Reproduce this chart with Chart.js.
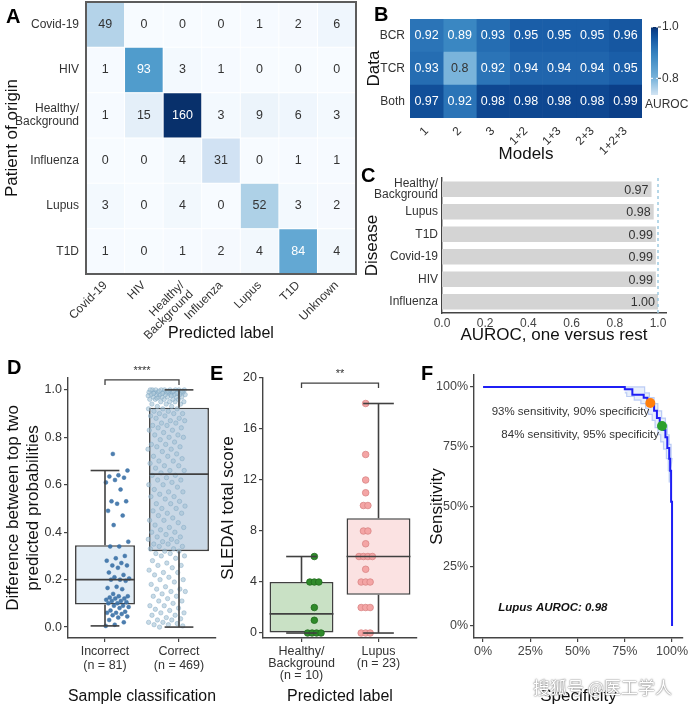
<!DOCTYPE html>
<html>
<head>
<meta charset="utf-8">
<script src="https://cdn.jsdelivr.net/npm/chart.js@4.4.0/dist/chart.umd.min.js"></script>
<style>
  body { margin: 0; background: #fff; width: 690px; height: 708px; position: relative; overflow: hidden; font-family: 'Liberation Sans', Arial, sans-serif; }
  canvas { position: absolute; }
  .tag { position: absolute; font-weight: bold; font-size: 20px; color: #000; }
  .mark { position: absolute; left: 533px; top: 674px; font-family: 'Noto Sans CJK SC', sans-serif; font-size: 17px; color: #fff; text-shadow: 0 0 2px #777, 0 0 1px #777; }
</style>
</head>
<body>
<canvas id="cA" width="380" height="350" style="left:0;top:0"></canvas>
<canvas id="cB" width="326" height="170" style="left:364px;top:0"></canvas>
<canvas id="cC" width="360" height="180" style="left:330px;top:170px"></canvas>
<canvas id="cD" width="225" height="353" style="left:0;top:355px"></canvas>
<canvas id="cE" width="215" height="353" style="left:210px;top:355px"></canvas>
<canvas id="cF" width="270" height="353" style="left:420px;top:355px"></canvas>
<div class="tag" style="left:6px;top:5px">A</div>
<div class="tag" style="left:374px;top:3px">B</div>
<div class="tag" style="left:361px;top:164px">C</div>
<div class="tag" style="left:7px;top:356px">D</div>
<div class="tag" style="left:210px;top:362px">E</div>
<div class="tag" style="left:421px;top:362px">F</div>
<div class="mark">搜狐号 @医工学人</div>
<script>
// Data
// A: confusion matrix
const predLabels = ['Covid-19', 'HIV', ['Healthy/', 'Background'], 'Influenza', 'Lupus', 'T1D', 'Unknown'];
const originLabels = ['Covid-19', 'HIV', ['Healthy/', 'Background'], 'Influenza', 'Lupus', 'T1D'];
const confusion = [
  [49, 0, 0, 0, 1, 2, 6],
  [1, 93, 3, 1, 0, 0, 0],
  [1, 15, 160, 3, 9, 6, 3],
  [0, 0, 4, 31, 0, 1, 1],
  [3, 0, 4, 0, 52, 3, 2],
  [1, 0, 1, 2, 4, 84, 4],
];

// B: AUROC by data / model
const modelLabels = ['1', '2', '3', '1+2', '1+3', '2+3', '1+2+3'];
const dataLabels = ['BCR', 'TCR', 'Both'];
const aurocBCR = [0.92, 0.89, 0.93, 0.95, 0.95, 0.95, 0.96];
const aurocTCR = [0.93, 0.8, 0.92, 0.94, 0.94, 0.94, 0.95];
const aurocBoth = [0.97, 0.92, 0.98, 0.98, 0.98, 0.98, 0.99];

// C: one versus rest
const diseaseLabels = [['Healthy/', 'Background'], 'Lupus', 'T1D', 'Covid-19', 'HIV', 'Influenza'];
const diseaseAuroc = [0.97, 0.98, 0.99, 0.99, 0.99, 1.0];

// D: difference between top two probabilities
const classLabels = [['Incorrect', '(n = 81)'], ['Correct', '(n = 469)']];
const dMin = [0.005, 0.0];
const dQ1 = [0.095, 0.32];
const dMed = [0.2, 0.645];
const dQ3 = [0.345, 0.925];
const dMax = [0.66, 1.0];
const incorrectDiff = [0.73, 0.66, 0.64, 0.635, 0.63, 0.62, 0.61, 0.58, 0.53, 0.53, 0.52, 0.49, 0.47, 0.43,
  0.36, 0.34, 0.34, 0.3, 0.29, 0.28, 0.27, 0.26, 0.26, 0.25, 0.23, 0.22, 0.21, 0.205, 0.2, 0.2, 0.195,
  0.17, 0.165, 0.16, 0.14, 0.13, 0.13, 0.125, 0.12, 0.12, 0.115, 0.11, 0.11, 0.105, 0.1, 0.1, 0.09,
  0.09, 0.085, 0.08, 0.07, 0.065, 0.06, 0.06, 0.055, 0.05, 0.045, 0.04, 0.03, 0.02, 0.01, 0.005];
const correctDiff = [0.0, 0.005, 0.01, 0.01, 0.015, 0.02, 0.02, 0.03, 0.03, 0.035, 0.04, 0.05, 0.05, 0.06,
  0.06, 0.07, 0.075, 0.08, 0.09, 0.09, 0.1, 0.11, 0.11, 0.12, 0.13, 0.13, 0.14, 0.15, 0.15, 0.16, 0.16,
  0.17, 0.18, 0.19, 0.2, 0.2, 0.21, 0.22, 0.23, 0.23, 0.24, 0.25, 0.26, 0.26, 0.27, 0.28, 0.29, 0.3, 0.3,
  0.31, 0.31, 0.32, 0.32, 0.33, 0.33, 0.34, 0.34, 0.35, 0.35, 0.36, 0.36, 0.37, 0.37, 0.38, 0.38, 0.39,
  0.4, 0.4, 0.41, 0.42, 0.42, 0.43, 0.44, 0.45, 0.45, 0.46, 0.47, 0.48, 0.48, 0.49, 0.5, 0.5, 0.51, 0.52,
  0.52, 0.53, 0.54, 0.55, 0.55, 0.56, 0.57, 0.57, 0.58, 0.59, 0.6, 0.6, 0.61, 0.62, 0.62, 0.63, 0.64,
  0.64, 0.65, 0.66, 0.66, 0.67, 0.68, 0.68, 0.69, 0.7, 0.7, 0.71, 0.72, 0.72, 0.73, 0.74, 0.75, 0.75,
  0.76, 0.76, 0.77, 0.77, 0.78, 0.79, 0.8, 0.8, 0.81, 0.81, 0.82, 0.83, 0.83, 0.84, 0.84, 0.85, 0.85,
  0.86, 0.86, 0.87, 0.87, 0.88, 0.88, 0.89, 0.89, 0.9, 0.9, 0.9, 0.91, 0.91, 0.92, 0.92, 0.92, 0.93,
  0.93, 0.94, 0.94, 0.94, 0.95, 0.95, 0.95, 0.95, 0.96, 0.96, 0.96, 0.96, 0.96, 0.97, 0.97, 0.97, 0.97,
  0.97, 0.97, 0.98, 0.98, 0.98, 0.98, 0.98, 0.98, 0.98, 0.98, 0.99, 0.99, 0.99, 0.99, 0.99, 0.99, 0.99,
  0.99, 0.99, 0.99, 1.0, 1.0, 1.0, 1.0, 1.0, 1.0, 1.0, 1.0, 1.0, 0.995, 0.995, 0.995, 0.995, 0.985,
  0.985, 0.985, 0.975, 0.975, 0.965];

// E: SLEDAI scores
const groupLabels = [['Healthy/', 'Background', '(n = 10)'], ['Lupus', '(n = 23)']];
const eMin = [0, 0];
const eQ1 = [0, 3];
const eMed = [1.5, 6];
const eQ3 = [4, 9];
const eMax = [6, 18];
const healthyScores = [0, 0, 0, 0, 1, 2, 4, 4, 4, 6];
const lupusScores = [0, 0, 0, 2, 2, 2, 4, 4, 4, 5, 6, 6, 6, 6, 7, 8, 8, 10, 10, 11, 12, 14, 18];

// F: lupus ROC
const rocSpec = [0, 0.75, 0.75, 0.79, 0.79, 0.85, 0.85, 0.87, 0.87, 0.89, 0.89, 0.905, 0.905, 0.92, 0.92,
  0.935, 0.935, 0.955, 0.955, 0.965, 0.965, 0.975, 0.975, 0.985, 0.985, 0.99, 0.99, 0.995, 0.995, 1.0, 1.0];
const rocSens = [1, 1, 0.99, 0.99, 0.967, 0.967, 0.955, 0.955, 0.94, 0.94, 0.925, 0.925, 0.9, 0.9, 0.87,
  0.87, 0.845, 0.845, 0.82, 0.82, 0.79, 0.79, 0.745, 0.745, 0.7, 0.7, 0.65, 0.65, 0.52, 0.52, 0];
const bandUpSpec = [0.75, 0.855, 0.855, 0.88, 0.88, 0.905, 0.905, 0.925, 0.925, 0.945, 0.945, 0.965, 0.965, 0.975, 0.975, 0.985, 0.985, 0.995, 0.995, 1.0];
const bandUpSens = [1, 1, 0.975, 0.975, 0.955, 0.955, 0.93, 0.93, 0.9, 0.9, 0.87, 0.87, 0.84, 0.84, 0.8, 0.8, 0.76, 0.76, 0.7, 0.7];
const bandLowSpec = [0.75, 0.76, 0.76, 0.8, 0.8, 0.835, 0.835, 0.86, 0.86, 0.875, 0.875, 0.895, 0.895, 0.91, 0.91, 0.925, 0.925, 0.94, 0.94, 0.955, 0.955, 0.97, 0.97, 0.98, 0.98, 0.985, 0.985];
const bandLowSens = [0.975, 0.975, 0.96, 0.96, 0.945, 0.945, 0.93, 0.93, 0.91, 0.91, 0.885, 0.885, 0.86, 0.86, 0.83, 0.83, 0.8, 0.8, 0.77, 0.77, 0.74, 0.74, 0.7, 0.7, 0.65, 0.65, 0.6];
const cutSpec = [0.885, 0.947];
const cutSens = [0.933, 0.837];

// Helper functions
const FONT = "'Liberation Sans', Arial, sans-serif";
Chart.defaults.font.family = FONT;
Chart.defaults.color = '#333';

const lerpColor = (stops, v) => {
  if (v <= stops[0][0]) return stops[0][1];
  for (let i = 1; i < stops.length; i++) {
    if (v <= stops[i][0]) {
      const [v0, c0] = stops[i - 1];
      const [v1, c1] = stops[i];
      const t = (v - v0) / (v1 - v0);
      const a = parseInt(c0.slice(1), 16);
      const b = parseInt(c1.slice(1), 16);
      const ch = (s) => Math.round(((a >> s) & 255) * (1 - t) + ((b >> s) & 255) * t);
      return `rgb(${ch(16)},${ch(8)},${ch(0)})`;
    }
  }
  return stops[stops.length - 1][1];
};

const bluesStops = [[0, '#f7fbff'], [0.125, '#deebf7'], [0.25, '#c6dbef'], [0.375, '#9ecae1'],
  [0.5, '#6baed6'], [0.625, '#4292c6'], [0.75, '#2171b5'], [0.875, '#08519c'], [1, '#08306b']];
const aurocStops = [[0.735, '#d6e6f4'], [0.8, '#7ab4db'], [0.89, '#3a87c2'], [0.92, '#2b74b7'],
  [0.95, '#1a5ea8'], [0.97, '#114f99'], [0.99, '#0b3f88'], [1.0, '#08306b']];

const base = {
  responsive: false,
  animation: false,
  plugins: { legend: { display: false }, tooltip: { enabled: false } },
};

const setTicks = (vals) => (scale) => { scale.ticks = vals.map((v) => ({ value: v })); };
// fixed axis sizes, and no label overflow padding
const fixW = (w) => (s) => { s.width = w; s.paddingTop = 0; s.paddingBottom = 0; };
const fixH = (h) => (s) => { s.height = h; s.paddingLeft = 0; s.paddingRight = 0; };
const noGrid = { display: false, drawTicks: false };

const cellText = (fmt, isDark) => ({
  id: 'cellText',
  afterDatasetsDraw(chart) {
    const ctx = chart.ctx;
    ctx.save();
    ctx.font = `12.5px ${FONT}`;
    ctx.textAlign = 'center';
    ctx.textBaseline = 'middle';
    chart.data.datasets.forEach((ds, i) => {
      chart.getDatasetMeta(i).data.forEach((bar, k) => {
        const v = ds.vals[k];
        ctx.fillStyle = isDark(v) ? '#333' : '#fff';
        ctx.fillText(fmt(v), (bar.x + bar.base) / 2, bar.y);
      });
    });
    ctx.restore();
  },
});

const frame = {
  id: 'frame',
  afterDraw(chart) {
    const { ctx, chartArea: a } = chart;
    ctx.save();
    ctx.strokeStyle = '#5c5c5c';
    ctx.lineWidth = 2;
    ctx.strokeRect(a.left, a.top, a.right - a.left, a.bottom - a.top);
    ctx.restore();
  },
};

// box plot whiskers, medians and significance bracket
const boxParts = (mins, meds, maxs, bracketY, stars) => ({
  id: 'boxParts',
  afterDatasetsDraw(chart) {
    const { ctx } = chart;
    const xs = chart.scales.x;
    const ys = chart.scales.y;
    const boxIdx = chart.data.datasets.findIndex((d) => d.type === 'bar');
    const boxes = chart.getDatasetMeta(boxIdx).data;
    ctx.save();
    ctx.strokeStyle = '#404040';
    ctx.lineWidth = 1.6;
    const seg = (x0, y0, x1, y1) => { ctx.beginPath(); ctx.moveTo(x0, y0); ctx.lineTo(x1, y1); ctx.stroke(); };
    boxes.forEach((bar, i) => {
      const cx = bar.x;
      const half = bar.width / 2;
      const cap = bar.width * 0.24;
      const q1 = chart.data.datasets[boxIdx].data[i][0];
      const q3 = chart.data.datasets[boxIdx].data[i][1];
      seg(cx - half, ys.getPixelForValue(meds[i]), cx + half, ys.getPixelForValue(meds[i]));
      seg(cx, ys.getPixelForValue(q3), cx, ys.getPixelForValue(maxs[i]));
      seg(cx - cap, ys.getPixelForValue(maxs[i]), cx + cap, ys.getPixelForValue(maxs[i]));
      seg(cx, ys.getPixelForValue(q1), cx, ys.getPixelForValue(mins[i]));
      seg(cx - cap, ys.getPixelForValue(mins[i]), cx + cap, ys.getPixelForValue(mins[i]));
    });
    const x0 = xs.getPixelForValue(0);
    const x1 = xs.getPixelForValue(1);
    const yb = ys.getPixelForValue(bracketY);
    ctx.lineWidth = 1.3;
    ctx.beginPath();
    ctx.moveTo(x0, yb + 5); ctx.lineTo(x0, yb); ctx.lineTo(x1, yb); ctx.lineTo(x1, yb + 5);
    ctx.stroke();
    ctx.fillStyle = '#333';
    ctx.font = `11px ${FONT}`;
    ctx.textAlign = 'center';
    ctx.textBaseline = 'middle';
    ctx.fillText(stars, (x0 + x1) / 2, yb - 9);
    ctx.restore();
  },
});

const jit = (i, w) => (((i * 0.618034 + 0.31) % 1) - 0.5) * 2 * w;

const swarm = (vals, idx, step) => {
  const counts = {};
  const seen = {};
  vals.forEach((v) => { counts[v] = (counts[v] || 0) + 1; });
  return vals.map((v) => {
    seen[v] = seen[v] === undefined ? 0 : seen[v] + 1;
    return { x: idx + (seen[v] - (counts[v] - 1) / 2) * step, y: v };
  });
};

const axisLine = { display: true, color: '#444', width: 1.4 };
const tickGrid = { display: true, drawOnChartArea: false, tickLength: 4, color: '#444', lineWidth: 1.2 };

// Panel A
new Chart(document.getElementById('cA'), {
  type: 'bar',
  data: {
    labels: originLabels,
    datasets: predLabels.map((p, j) => ({
      xAxisID: 'x',
      data: originLabels.map(() => 1),
      vals: confusion.map((r) => r[j]),
      backgroundColor: confusion.map((r) => lerpColor(bluesStops, r[j] / 160)),
      borderColor: 'rgba(255,255,255,0.7)',
      borderWidth: 0.8,
      borderSkipped: false,
      barPercentage: 1,
      categoryPercentage: 1,
    })),
  },
  options: {
    ...base,
    indexAxis: 'y',
    layout: { padding: { top: 2, right: 24 } },
    scales: {
      x: { type: 'linear', stacked: true, min: 0, max: 7, display: false },
      xc: {
        type: 'category', labels: predLabels, position: 'bottom', offset: true,
        grid: noGrid, border: { display: false },
        ticks: { autoSkip: false, minRotation: 45, maxRotation: 45, padding: 5, color: '#333', font: { size: 12, lineHeight: 1.05 } },
        title: { display: true, text: 'Predicted label', color: '#111', font: { size: 16 }, padding: { top: 0, bottom: 7 } },
        afterFit: fixH(76),
      },
      y: {
        stacked: true, grid: noGrid, border: { display: false },
        ticks: { autoSkip: false, padding: 7, color: '#333', font: { size: 12, lineHeight: 1.05 } },
        title: { display: true, text: 'Patient of origin', color: '#111', font: { size: 17 }, padding: { top: 2, bottom: 0 } },
        afterFit: fixW(86),
      },
    },
  },
  plugins: [cellText((v) => String(v), (v) => v < 80), frame],
});

// Panel B
const aurocRows = [aurocBCR, aurocTCR, aurocBoth];
const colorBar = {
  id: 'colorBar',
  afterDraw(chart) {
    const { ctx } = chart;
    const x = 287, top = 27, bottom = 95;
    const vTop = 1.0, vBottom = 0.735;
    ctx.save();
    for (let y = top; y < bottom; y++) {
      const v = vTop - (y - top) / (bottom - top) * (vTop - vBottom);
      ctx.fillStyle = lerpColor(aurocStops, v);
      ctx.fillRect(x, y, 7, 1);
    }
    ctx.font = `12px ${FONT}`;
    ctx.fillStyle = '#333';
    ctx.textBaseline = 'middle';
    [1.0, 0.8].forEach((v) => {
      const y = top + (vTop - v) / (vTop - vBottom) * (bottom - top);
      ctx.strokeStyle = '#fff';
      ctx.lineWidth = 1;
      ctx.beginPath(); ctx.moveTo(x, y); ctx.lineTo(x + 2, y); ctx.moveTo(x + 5, y); ctx.lineTo(x + 7, y); ctx.stroke();
      ctx.strokeStyle = '#333';
      ctx.beginPath(); ctx.moveTo(x + 7, y); ctx.lineTo(x + 10, y); ctx.stroke();
      ctx.fillText(v.toFixed(1), x + 11, y);
    });
    ctx.textAlign = 'left';
    ctx.fillText('AUROC', 281, 105);
    ctx.restore();
  },
};

new Chart(document.getElementById('cB'), {
  type: 'bar',
  data: {
    labels: dataLabels,
    datasets: modelLabels.map((m, j) => ({
      xAxisID: 'x',
      data: dataLabels.map(() => 1),
      vals: aurocRows.map((r) => r[j]),
      backgroundColor: aurocRows.map((r) => lerpColor(aurocStops, r[j])),
      borderWidth: 0,
      barPercentage: 1,
      categoryPercentage: 1,
    })),
  },
  options: {
    ...base,
    indexAxis: 'y',
    layout: { padding: { top: 19, right: 48 } },
    scales: {
      x: { type: 'linear', stacked: true, min: 0, max: 7, display: false },
      xc: {
        type: 'category', labels: modelLabels, position: 'bottom', offset: true,
        grid: noGrid, border: { display: false },
        ticks: { autoSkip: false, minRotation: 45, maxRotation: 45, padding: 6, color: '#333', font: { size: 12 } },
        title: { display: true, text: 'Models', color: '#111', font: { size: 17 }, padding: { top: 0, bottom: 5 } },
        afterFit: fixH(52),
      },
      y: {
        stacked: true, grid: noGrid, border: { display: false },
        ticks: { autoSkip: false, padding: 5, color: '#333', font: { size: 12 } },
        title: { display: true, text: 'Data', color: '#111', font: { size: 17 }, padding: 0 },
        afterFit: fixW(46),
      },
    },
  },
  plugins: [cellText((v) => String(v), (v) => v < 0.85), colorBar],
});

// Panel C
const barValues = {
  id: 'barValues',
  afterDatasetsDraw(chart) {
    const { ctx, chartArea: a } = chart;
    const xs = chart.scales.x;
    ctx.save();
    const x1 = xs.getPixelForValue(1.0);
    ctx.strokeStyle = '#9ecae1';
    ctx.lineWidth = 1.5;
    ctx.setLineDash([3, 3]);
    ctx.beginPath(); ctx.moveTo(x1, a.top); ctx.lineTo(x1, a.bottom); ctx.stroke();
    ctx.setLineDash([]);
    ctx.font = `12.5px ${FONT}`;
    ctx.fillStyle = '#333';
    ctx.textAlign = 'right';
    ctx.textBaseline = 'middle';
    chart.getDatasetMeta(0).data.forEach((bar, i) => {
      ctx.fillText(diseaseAuroc[i].toFixed(2), bar.x - 3, bar.y + 1);
    });
    ctx.restore();
  },
};

new Chart(document.getElementById('cC'), {
  type: 'bar',
  data: {
    labels: diseaseLabels,
    datasets: [{
      data: diseaseAuroc,
      backgroundColor: '#d4d4d4',
      barPercentage: 0.68,
      categoryPercentage: 1,
    }],
  },
  options: {
    ...base,
    indexAxis: 'y',
    layout: { padding: { left: 32, top: 8, right: 24 } },
    scales: {
      x: {
        min: 0, max: 1.037, afterBuildTicks: setTicks([0, 0.2, 0.4, 0.6, 0.8, 1.0]),
        grid: noGrid, border: axisLine,
        ticks: { padding: 3, color: '#444', font: { size: 12 }, callback: (v) => v.toFixed(1) },
        title: { display: true, text: 'AUROC, one versus rest', color: '#111', font: { size: 17 }, padding: { top: 0, bottom: 4 } },
        afterFit: fixH(37),
      },
      y: {
        grid: noGrid, border: axisLine,
        ticks: { autoSkip: false, padding: 4, color: '#333', font: { size: 12, lineHeight: 0.9 } },
        title: { display: true, text: 'Disease', color: '#111', font: { size: 17 }, padding: 0 },
        afterFit: fixW(80),
      },
    },
  },
  plugins: [barValues],
});

// Panel D
new Chart(document.getElementById('cD'), {
  type: 'bar',
  data: {
    labels: classLabels,
    datasets: [
      {
        type: 'scatter', xAxisID: 'xj', order: 1,
        data: incorrectDiff.map((v, i) => ({ x: 0 + jit(i, 0.24), y: v })),
        pointRadius: 2, backgroundColor: 'rgba(58,112,166,0.9)', borderColor: 'rgba(58,112,166,0.9)', borderWidth: 0.5,
      },
      {
        type: 'scatter', xAxisID: 'xj', order: 1,
        data: correctDiff.map((v, i) => ({ x: 1 + jit(i, 0.38), y: v })),
        pointRadius: 2.2, backgroundColor: 'rgba(165,195,214,0.6)', borderColor: 'rgba(120,160,190,0.7)', borderWidth: 0.6,
      },
      {
        type: 'bar', xAxisID: 'x', order: 2, grouped: false,
        data: dQ1.map((q, i) => [q, dQ3[i]]),
        backgroundColor: ['#e2edf6', '#c9d8e6'],
        borderColor: '#404040', borderWidth: 1.6, borderSkipped: false,
        barPercentage: 0.81, categoryPercentage: 1,
      },
    ],
  },
  options: {
    ...base,
    layout: { padding: { top: 23, right: 9 } },
    scales: {
      x: {
        type: 'category', offset: true,
        grid: { ...tickGrid, offset: false }, border: axisLine,
        ticks: { autoSkip: false, padding: 3, color: '#333', font: { size: 12.5, lineHeight: 1.12 } },
        title: { display: true, text: 'Sample classification', color: '#111', font: { size: 16 }, padding: { top: 0, bottom: 2 } },
        afterFit: fixH(70),
      },
      xj: { type: 'linear', min: -0.5, max: 1.5, display: false },
      y: {
        min: -0.046, max: 1.05, afterBuildTicks: setTicks([0, 0.2, 0.4, 0.6, 0.8, 1.0]),
        grid: tickGrid, border: axisLine,
        ticks: { padding: 2, color: '#333', font: { size: 12.5 }, callback: (v) => v.toFixed(1) },
        title: {
          display: true, text: ['Difference between top two', 'predicted probabilities'],
          color: '#111', font: { size: 17, lineHeight: 1.15 }, padding: { top: 4, bottom: 0 },
        },
        afterFit: fixW(68),
      },
    },
  },
  plugins: [boxParts(dMin, dMed, dMax, 1.042, '****')],
});

// Panel E
new Chart(document.getElementById('cE'), {
  type: 'bar',
  data: {
    labels: groupLabels,
    datasets: [
      {
        type: 'scatter', xAxisID: 'xj', order: 1,
        data: swarm(healthyScores, 0, 0.087),
        pointRadius: 3.3, backgroundColor: '#2f8a2a', borderColor: '#1f6b1c', borderWidth: 0.8,
      },
      {
        type: 'scatter', xAxisID: 'xj', order: 1,
        data: swarm(lupusScores, 1, 0.087),
        pointRadius: 3.3, backgroundColor: '#f4a5a5', borderColor: '#d98585', borderWidth: 0.8,
      },
      {
        type: 'bar', xAxisID: 'x', order: 2, grouped: false,
        data: eQ1.map((q, i) => [q, eQ3[i]]),
        backgroundColor: ['#c9e1c5', '#fbe2e2'],
        borderColor: '#404040', borderWidth: 1.6, borderSkipped: false,
        barPercentage: 0.83, categoryPercentage: 1,
      },
    ],
  },
  options: {
    ...base,
    layout: { padding: { top: 23, right: 8 } },
    scales: {
      x: {
        type: 'category', offset: true,
        grid: { ...tickGrid, offset: false }, border: axisLine,
        ticks: { autoSkip: false, padding: 3, color: '#333', font: { size: 12.5, lineHeight: 0.98 } },
        title: { display: true, text: 'Predicted label', color: '#111', font: { size: 16 }, padding: { top: 0, bottom: 2 } },
        afterFit: fixH(70),
      },
      xj: { type: 'linear', min: -0.5, max: 1.5, display: false },
      y: {
        min: -0.39, max: 20, afterBuildTicks: setTicks([0, 4, 8, 12, 16, 20]),
        grid: tickGrid, border: axisLine,
        ticks: { padding: 2, color: '#333', font: { size: 12.5 } },
        title: { display: true, text: 'SLEDAI total score', color: '#111', font: { size: 17 }, padding: { top: 8, bottom: 0 } },
        afterFit: fixW(53),
      },
    },
  },
  plugins: [boxParts(eMin, eMed, eMax, 19.6, '**')],
});

// Panel F
const rocNotes = {
  id: 'rocNotes',
  afterDatasetsDraw(chart) {
    const { ctx } = chart;
    const xs = chart.scales.x;
    const ys = chart.scales.y;
    ctx.save();
    ctx.font = `11.5px ${FONT}`;
    ctx.fillStyle = '#333';
    ctx.textAlign = 'right';
    ctx.textBaseline = 'middle';
    ctx.fillText('93% sensitivity, 90% specificity', xs.getPixelForValue(cutSpec[0]) - 1, ys.getPixelForValue(cutSens[0]) + 9);
    ctx.fillText('84% sensitivity, 95% specificity', xs.getPixelForValue(cutSpec[1]) - 3, ys.getPixelForValue(cutSens[1]) + 9);
    ctx.textAlign = 'left';
    ctx.fillStyle = '#111';
    ctx.font = `italic bold 11.5px ${FONT}`;
    ctx.fillText('Lupus AUROC: 0.98', xs.getPixelForValue(0.08), ys.getPixelForValue(0.075));
    ctx.restore();
  },
};

const bandX = bandUpSpec.concat(bandLowSpec.slice().reverse());
const bandY = bandUpSens.concat(bandLowSens.slice().reverse());
const pctTicks = [0, 0.25, 0.5, 0.75, 1];

new Chart(document.getElementById('cF'), {
  type: 'scatter',
  data: {
    datasets: [
      {
        data: cutSpec.slice(0, 1).map((x, i) => ({ x, y: cutSens[i] })),
        pointRadius: 5, backgroundColor: '#ff7f0e', borderWidth: 0,
      },
      {
        data: cutSpec.slice(1).map((x, i) => ({ x, y: cutSens[i + 1] })),
        pointRadius: 5, backgroundColor: '#2ca02c', borderWidth: 0,
      },
      {
        data: rocSpec.map((x, i) => ({ x, y: rocSens[i] })),
        showLine: true, pointRadius: 0, borderColor: '#1f1ff5', borderWidth: 2,
      },
      {
        data: bandX.map((x, i) => ({ x, y: bandY[i] })),
        showLine: true, pointRadius: 0, fill: 'shape',
        backgroundColor: 'rgba(150,180,235,0.22)', borderColor: 'rgba(150,175,240,0.6)', borderWidth: 1.2,
      },
    ],
  },
  options: {
    ...base,
    layout: { padding: { top: 20, right: 7 } },
    scales: {
      x: {
        min: -0.048, max: 1.058, afterBuildTicks: setTicks(pctTicks),
        grid: tickGrid, border: axisLine,
        ticks: { padding: 2, color: '#444', font: { size: 12.5 }, callback: (v) => Math.round(v * 100) + '%' },
        title: { display: true, text: 'Specificity', color: '#111', font: { size: 17 }, padding: { top: 0, bottom: 1 } },
        afterFit: fixH(70),
      },
      y: {
        min: -0.05, max: 1.05, afterBuildTicks: setTicks(pctTicks),
        grid: tickGrid, border: axisLine,
        ticks: { padding: 2, color: '#444', font: { size: 12.5 }, callback: (v) => Math.round(v * 100) + '%' },
        title: { display: true, text: 'Sensitivity', color: '#111', font: { size: 17 }, padding: { top: 7, bottom: 0 } },
        afterFit: fixW(54),
      },
    },
  },
  plugins: [rocNotes],
});
</script>
</body>
</html>
